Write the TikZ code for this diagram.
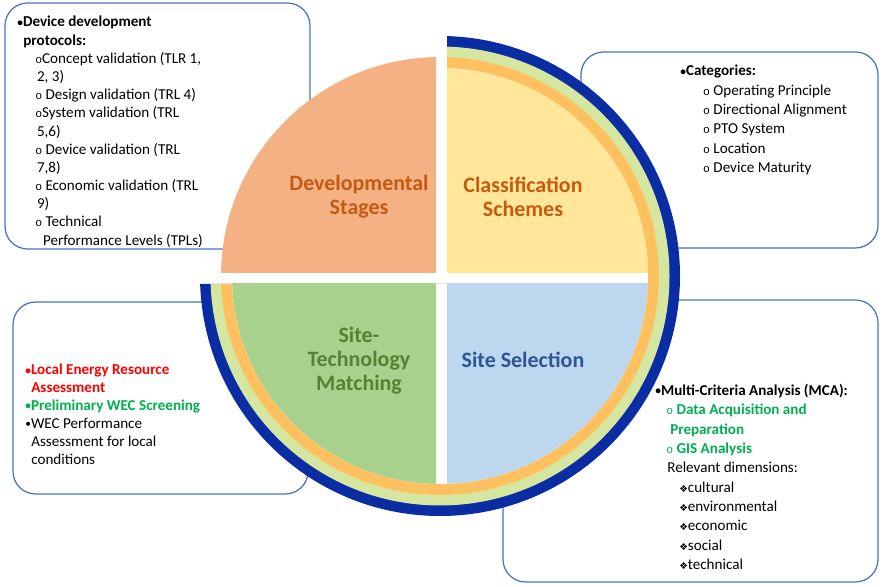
\documentclass[tikz,border=0pt]{standalone}
\usepackage{fontspec}
\setmainfont{Carlito}
\setmonofont{Liberation Mono}
\newfontfamily\symfont{DejaVu Sans}
\usepackage{tikz}

\definecolor{boxblue}{HTML}{4472C4}
\definecolor{quadorange}{HTML}{F4B183}
\definecolor{quadyellow}{HTML}{FFE699}
\definecolor{quadgreen}{HTML}{A9D18E}
\definecolor{quadblue}{HTML}{BDD7EE}
\definecolor{ringorange}{HTML}{FFC060}
\definecolor{ringgreen}{HTML}{D5E6A0}
\definecolor{ringblue}{HTML}{0B2DA3}
\definecolor{labelorange}{HTML}{C55A11}
\definecolor{labelgreen}{HTML}{548235}
\definecolor{labelblue}{HTML}{2F5597}
\definecolor{alertred}{HTML}{FF0000}
\definecolor{textgreen}{HTML}{00B050}

\newcommand{\mainbul}{\raisebox{0.5pt}{\fontsize{6.5}{6.5}\selectfont •}}
\newcommand{\subbul}{{\ttfamily\fontsize{6.5}{6.5}\selectfont o}}
\newcommand{\dimbul}{{\symfont\fontsize{5.5}{5.5}\selectfont ❖}}

\begin{document}
\begin{tikzpicture}[x=0.02cm, y=-0.02cm,
        box_style/.style={draw=boxblue, line width=0.7pt, fill=white, rounded corners=0.45cm},
        list_style/.style={anchor=north west, inner sep=0pt, align=left},
        stage_style/.style={align=center, inner sep=0pt, font=\fontsize{12.5}{13.6}\selectfont\bfseries}]

        \useasboundingbox (0,0) rectangle (886,587);

        % text boxes behind the circle
        \node [box_style, minimum width=6.1cm, minimum height=4.92cm](protocols_box) at (157.5,126) {};
        \node [box_style, minimum width=5.94cm, minimum height=3.92cm](categories_box) at (729.5,150) {};
        \node [box_style, minimum width=5.9cm, minimum height=3.84cm](matching_box) at (160.5,398) {};
        \node [box_style, minimum width=7.5cm, minimum height=5.64cm](mca_box) at (690.5,441) {};

        % rings
        \begin{scope}
            \clip (447,0) -- (886,0) -- (886,587) -- (0,587) -- (0,284) -- (447,284) -- cycle;
            \fill [ringblue] (440,276) circle (240);
            \fill [ringgreen] (440,276) circle (229.5);
            \fill [ringorange] (440,276) circle (219);
            \fill [white] (440,276) circle (208);
        \end{scope}

        % quadrants
        \begin{scope}
            \clip (0,0) rectangle (436,273);
            \fill [quadorange] (440,276) circle (219);
        \end{scope}
        \begin{scope}
            \clip (447,0) rectangle (886,273);
            \fill [quadyellow] (440,276) circle (208);
        \end{scope}
        \begin{scope}
            \clip (0,284) rectangle (436,587);
            \fill [quadgreen] (440,276) circle (208);
        \end{scope}
        \begin{scope}
            \clip (447,284) rectangle (886,587);
            \fill [quadblue] (440,276) circle (208);
        \end{scope}

        \node [stage_style, text=labelorange](dev_stages) at (359,197) {Developmental\\Stages};
        \node [stage_style, text=labelorange](class_schemes) at (523,197) {Classification\\Schemes};
        \node [stage_style, text=labelgreen](site_tech) at (359,361) {Site-\\Technology\\Matching};
        \node [stage_style, text=labelblue](site_sel) at (523,360) {Site Selection};

        \node [list_style, font=\fontsize{8.6}{10.35}\selectfont](protocols_text) at (17,16) {%
            \textbf{\mainbul Device development}\\
            \hspace*{3.4pt}\textbf{protocols:}\\
            \hspace*{10.2pt}\subbul Concept validation (TLR 1,\\
            \hspace*{11.2pt}2, 3)\\
            \hspace*{10.2pt}\subbul\ Design validation (TRL 4)\\
            \hspace*{10.2pt}\subbul System validation (TRL\\
            \hspace*{11.2pt}5,6)\\
            \hspace*{10.2pt}\subbul\ Device validation (TRL\\
            \hspace*{11.2pt}7,8)\\
            \hspace*{10.2pt}\subbul\ Economic validation (TRL\\
            \hspace*{11.2pt}9)\\
            \hspace*{10.2pt}\subbul\ Technical\\
            \hspace*{14.6pt}Performance Levels (TPLs)};

        \node [list_style, font=\fontsize{8.6}{11}\selectfont](categories_text) at (680,65) {%
            \textbf{\mainbul Categories:}\\
            \hspace*{13pt}\subbul\ Operating Principle\\
            \hspace*{13pt}\subbul\ Directional Alignment\\
            \hspace*{13pt}\subbul\ PTO System\\
            \hspace*{13pt}\subbul\ Location\\
            \hspace*{13pt}\subbul\ Device Maturity};

        \node [list_style, font=\fontsize{8.6}{10.2}\selectfont](matching_text) at (25,364) {%
            \textcolor{alertred}{\textbf{\mainbul Local Energy Resource}}\\
            \hspace*{3.4pt}\textcolor{alertred}{\textbf{Assessment}}\\
            \textcolor{textgreen}{\textbf{\mainbul Preliminary WEC Screening}}\\
            \mainbul WEC Performance\\
            \hspace*{3.4pt}Assessment for local\\
            \hspace*{3.4pt}conditions};

        \node [list_style, font=\fontsize{8.6}{11}\selectfont](mca_text) at (655,384) {%
            \textbf{\mainbul Multi-Criteria Analysis (MCA):}\\
            \hspace*{6.2pt}\textcolor{textgreen}{\subbul\ \textbf{Data Acquisition and}}\\
            \hspace*{8.5pt}\textcolor{textgreen}{\textbf{Preparation}}\\
            \hspace*{6.2pt}\textcolor{textgreen}{\subbul\ \textbf{GIS Analysis}}\\
            \hspace*{6.8pt}Relevant dimensions:\\
            \hspace*{13.6pt}\dimbul cultural\\
            \hspace*{13.6pt}\dimbul environmental\\
            \hspace*{13.6pt}\dimbul economic\\
            \hspace*{13.6pt}\dimbul social\\
            \hspace*{13.6pt}\dimbul technical};
\end{tikzpicture}
\end{document}
